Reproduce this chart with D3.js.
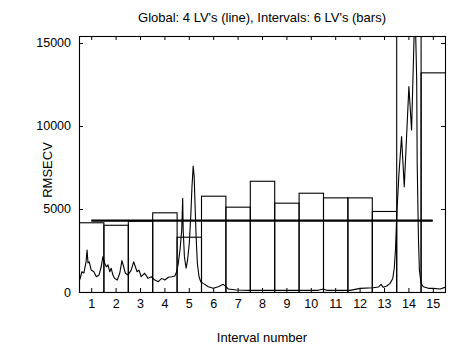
<!DOCTYPE html>
<html>
<head>
<meta charset="utf-8">
<script src="https://cdn.jsdelivr.net/npm/d3@7"></script>
<style>
  body { margin: 0; background: #fff; }
  svg { display: block; }
</style>
</head>
<body>
<div id="chart"></div>
<script>
// Interval PLS: RMSECV per interval (bars) and global model (line)
const intervals = [1, 2, 3, 4, 5, 6, 7, 8, 9, 10, 11, 12, 13, 14, 15];
const intervalRmsecv = [4200, 4050, 4300, 4800, 3330, 5800, 5140, 6700, 5380, 5980, 5700, 5700, 4880, 19000, 13230];
const globalRmsecv = 4300;
const yTicks = [0, 5000, 10000, 15000];

// mean spectrum scaled onto the interval axis (position, value)
const spectrumPos = [0.50, 0.54, 0.62, 0.70, 0.79, 0.83, 0.87, 0.92, 1.00, 1.11, 1.21, 1.32, 1.41, 1.48, 1.55, 1.62,
  1.69, 1.76, 1.82, 1.89, 1.96, 2.07, 2.17, 2.26, 2.33, 2.40, 2.51, 2.64, 2.74, 2.81, 2.88, 2.96, 3.05, 3.19, 3.33,
  3.46, 3.61, 3.75, 3.89, 4.02, 4.16, 4.30, 4.43, 4.50, 4.57, 4.64, 4.71, 4.75, 4.77, 4.82, 4.89, 4.95, 5.02, 5.08,
  5.13, 5.18, 5.22, 5.25, 5.30, 5.35, 5.42, 5.49, 5.59, 5.80, 6.00, 6.21, 6.41, 6.52, 6.62, 6.96, 7.51, 9.56, 10.30,
  10.51, 10.65, 11.61, 12.02, 12.56, 12.77, 12.88, 12.97, 13.11, 13.25, 13.36, 13.42, 13.47, 13.52, 13.61, 13.72,
  13.83, 14.02, 14.13, 14.24, 14.29, 14.34, 14.36, 14.41, 14.45, 14.52, 14.61, 14.82, 15.02, 15.30, 15.50];
const spectrumVal = [720, 780, 1220, 1150, 1820, 2530, 1750, 1820, 1320, 1220, 920, 1020, 1520, 2130, 1730, 1520,
  1630, 1220, 1430, 1020, 820, 720, 1130, 1890, 1520, 1130, 1020, 1320, 1820, 1520, 1220, 1320, 920, 1130, 820,
  920, 720, 620, 820, 720, 890, 920, 960, 1220, 1730, 2530, 3730, 5640, 3730, 2130, 1430, 1930, 2930, 4540,
  6340, 7590, 6950, 5540, 3330, 1730, 920, 620, 520, 320, 220, 320, 460, 320, 180, 120, 100, 100, 100,
  180, 100, 100, 220, 260, 300, 460, 280, 360, 520, 820, 1430, 2530, 4540, 7050, 9360,
  6340, 12370, 9760, 15780, 16080, 12770, 7770, 3330, 1320, 520, 320, 220, 220, 180, 280];

const width = 450, height = 348;
const margin = { top: 36, right: 5, bottom: 56, left: 79 };
const innerWidth = width - margin.left - margin.right;
const innerHeight = height - margin.top - margin.bottom;
const fontFamily = '"Liberation Sans", Arial, Helvetica, sans-serif';

const svg = d3.select('#chart').append('svg')
  .attr('width', width)
  .attr('height', height)
  .attr('font-family', fontFamily);

const g = svg.append('g')
  .attr('transform', `translate(${margin.left},${margin.top})`);

const xScale = d3.scaleLinear().domain([0.5, 15.5]).range([0, innerWidth]);
const yScale = d3.scaleLinear().domain([0, 15420]).range([innerHeight, 0]);

g.append('clipPath').attr('id', 'plot-clip')
  .append('rect')
  .attr('width', innerWidth)
  .attr('height', innerHeight);

const plot = g.append('g').attr('clip-path', 'url(#plot-clip)');

// Bars (outline only)
plot.selectAll('.bar')
  .data(intervals)
  .enter()
  .append('rect')
  .attr('class', 'bar')
  .attr('x', d => xScale(d - 0.5) + 0.5)
  .attr('y', (d, i) => yScale(intervalRmsecv[i]) + 0.5)
  .attr('width', xScale(1.5) - xScale(0.5))
  .attr('height', (d, i) => yScale(0) - yScale(intervalRmsecv[i]))
  .attr('fill', 'none')
  .attr('stroke', '#000')
  .attr('stroke-width', 1.1);

// Spectrum line
const line = d3.line()
  .x(d => xScale(d[0]))
  .y(d => yScale(d[1]));

plot.append('path')
  .datum(d3.zip(spectrumPos, spectrumVal))
  .attr('fill', 'none')
  .attr('stroke', '#000')
  .attr('stroke-width', 1.1)
  .attr('stroke-linejoin', 'round')
  .attr('d', line);

// Global model line
plot.append('line')
  .attr('x1', xScale(intervals[0]))
  .attr('x2', xScale(intervals[intervals.length - 1]))
  .attr('y1', yScale(globalRmsecv))
  .attr('y2', yScale(globalRmsecv))
  .attr('stroke', '#000')
  .attr('stroke-width', 2.2);

// Axes, MATLAB style ticks inward
const styleAxis = a => {
  a.attr('font-size', 12.5).attr('font-family', fontFamily);
  a.select('.domain').remove();
  a.selectAll('.tick line').attr('stroke', '#000');
  a.selectAll('.tick text').attr('fill', '#000');
};

g.append('g')
  .attr('transform', `translate(0,${innerHeight})`)
  .call(d3.axisBottom(xScale).tickValues(intervals).tickFormat(d3.format('d'))
    .tickSizeInner(-4).tickSizeOuter(0).tickPadding(7))
  .call(styleAxis);

g.append('g')
  .call(d3.axisLeft(yScale).tickValues(yTicks).tickFormat(d3.format('d'))
    .tickSizeInner(-4).tickSizeOuter(0).tickPadding(8))
  .call(styleAxis);

// top and right ticks, no labels
g.append('g')
  .call(d3.axisTop(xScale).tickValues(intervals).tickSizeInner(-4).tickSizeOuter(0).tickFormat(''))
  .call(a => a.selectAll('.tick text').remove())
  .call(styleAxis);

g.append('g')
  .attr('transform', `translate(${innerWidth},0)`)
  .call(d3.axisRight(yScale).tickValues(yTicks).tickSizeInner(-4).tickSizeOuter(0).tickFormat(''))
  .call(a => a.selectAll('.tick text').remove())
  .call(styleAxis);

// Frame
g.append('rect')
  .attr('x', 0.5).attr('y', 0.5)
  .attr('width', innerWidth)
  .attr('height', innerHeight)
  .attr('fill', 'none')
  .attr('stroke', '#000')
  .attr('stroke-width', 1.1);

// Title and labels
svg.append('text')
  .attr('x', margin.left + innerWidth / 2)
  .attr('y', 22)
  .attr('text-anchor', 'middle')
  .attr('font-size', 13)
  .text("Global: 4 LV's (line), Intervals: 6 LV's (bars)");

svg.append('text')
  .attr('x', margin.left + innerWidth / 2)
  .attr('y', 342)
  .attr('text-anchor', 'middle')
  .attr('font-size', 13)
  .text('Interval number');

svg.append('text')
  .attr('transform', `translate(52,${margin.top + innerHeight / 2 + 6}) rotate(-90)`)
  .attr('text-anchor', 'middle')
  .attr('font-size', 13)
  .text('RMSECV');
</script>
</body>
</html>
